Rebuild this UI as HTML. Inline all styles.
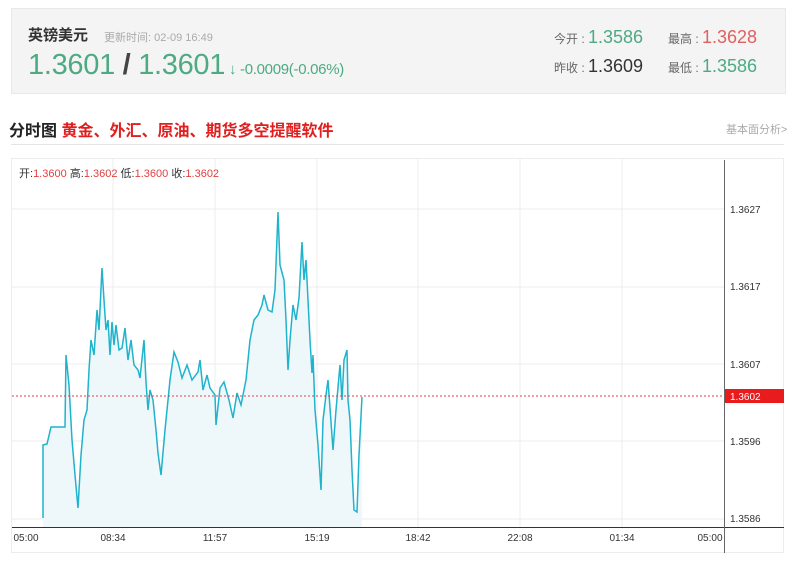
<!DOCTYPE html>
<html><head><meta charset="utf-8"><style>
body{margin:0;width:800px;height:571px;background:#fff;font-family:"Liberation Sans","Noto Sans CJK SC",sans-serif;position:relative;overflow:hidden}
.a{position:absolute;white-space:nowrap}
</style></head><body>
<div class="a" style="left:11px;top:8px;width:773px;height:84px;background:#f4f4f4;border:1px solid #e8e8e8"></div>
<div class="a" style="left:28px;top:24px;font-size:15px;font-weight:bold;color:#333">英镑美元</div>
<div class="a" style="left:104px;top:29px;font-size:11px;color:#aaa">更新时间: 02-09 16:49</div>
<div class="a" style="left:28px;top:49px;font-size:29px;color:#4daa83;letter-spacing:-0.3px">1.3601<span style="color:#444;font-weight:bold"> / </span>1.3601<span style="font-size:15px"> ↓ -0.0009(-0.06%)</span></div>
<div class="a" style="left:554px;top:27px;font-size:12px;color:#666">今开 : <span style="font-size:18px;color:#4daa83">1.3586</span></div>
<div class="a" style="left:668px;top:27px;font-size:12px;color:#666">最高 : <span style="font-size:18px;color:#e06060">1.3628</span></div>
<div class="a" style="left:554px;top:56px;font-size:12px;color:#666">昨收 : <span style="font-size:18px;color:#333">1.3609</span></div>
<div class="a" style="left:668px;top:56px;font-size:12px;color:#666">最低 : <span style="font-size:18px;color:#4daa83">1.3586</span></div>
<div class="a" style="left:9px;top:117px;font-size:16px;font-weight:bold;color:#222">分时图 <span style="color:#e02020">黄金、外汇、原油、期货多空提醒软件</span></div>
<div class="a" style="left:726px;top:121px;font-size:11px;color:#aaa">基本面分析&gt;</div>
<div class="a" style="left:11px;top:144px;width:773px;height:1px;background:#e5e5e5"></div>
<svg class="a" style="left:0;top:0" width="800" height="571">
<rect x="11.5" y="158.5" width="772" height="394" fill="none" stroke="#ececec"/>
<g stroke="#ececec">
<line x1="113" y1="159" x2="113" y2="527"/><line x1="215" y1="159" x2="215" y2="527"/><line x1="317" y1="159" x2="317" y2="527"/><line x1="418" y1="159" x2="418" y2="527"/><line x1="520" y1="159" x2="520" y2="527"/><line x1="622" y1="159" x2="622" y2="527"/>
<line x1="12" y1="209" x2="724" y2="209"/><line x1="12" y1="287" x2="724" y2="287"/><line x1="12" y1="364" x2="724" y2="364"/><line x1="12" y1="441" x2="724" y2="441"/><line x1="12" y1="519" x2="724" y2="519"/>
</g>
<polygon fill="#eef8fb" points="43,527 43,518 43,445 47,444 51,427 65,427 66,355 69,385 72,440 75,475 78,508 81,455 84,420 87,410 89,370 91,340 94,355 97,310 99,330 102,268 104,300 106,330 108,320 110,355 112,322 114,345 116,325 119,350 122,348 125,328 128,360 131,340 134,365 138,370 140,378 144,340 146,382 148,410 150,390 153,400 156,430 158,453 161,475 165,430 170,380 174,352 178,362 182,378 187,365 192,380 198,372 200,360 203,390 207,375 210,388 215,395 216,425 220,388 224,382 229,400 233,418 237,393 241,405 246,380 250,340 254,320 258,315 262,305 264,295 268,310 272,312 275,290 278,212 280,265 284,280 286,320 288,370 290,340 293,305 296,320 299,298 302,242 304,280 306,260 308,300 310,340 312,373 313,355 315,410 318,445 321,490 323,420 326,395 328,380 330,408 333,450 336,410 340,365 342,400 344,360 347,350 348,400 350,420 352,470 354,510 357,512 359,455 362,397 362,527"/>
<polyline fill="none" stroke="#1fb3cc" stroke-width="1.5" points="43,518 43,445 47,444 51,427 65,427 66,355 69,385 72,440 75,475 78,508 81,455 84,420 87,410 89,370 91,340 94,355 97,310 99,330 102,268 104,300 106,330 108,320 110,355 112,322 114,345 116,325 119,350 122,348 125,328 128,360 131,340 134,365 138,370 140,378 144,340 146,382 148,410 150,390 153,400 156,430 158,453 161,475 165,430 170,380 174,352 178,362 182,378 187,365 192,380 198,372 200,360 203,390 207,375 210,388 215,395 216,425 220,388 224,382 229,400 233,418 237,393 241,405 246,380 250,340 254,320 258,315 262,305 264,295 268,310 272,312 275,290 278,212 280,265 284,280 286,320 288,370 290,340 293,305 296,320 299,298 302,242 304,280 306,260 308,300 310,340 312,373 313,355 315,410 318,445 321,490 323,420 326,395 328,380 330,408 333,450 336,410 340,365 342,400 344,360 347,350 348,400 350,420 352,470 354,510 357,512 359,455 362,397"/>
<line x1="12" y1="396" x2="724" y2="396" stroke="#e04040" stroke-dasharray="2,2"/>
<line x1="12" y1="527.5" x2="784" y2="527.5" stroke="#333"/>
<line x1="724.5" y1="160" x2="724.5" y2="553" stroke="#666"/>
<rect x="725" y="389" width="59" height="14" fill="#e81c1c"/>
<g font-size="10" fill="#333" font-family="Liberation Sans,sans-serif">
<text x="730" y="213">1.3627</text><text x="730" y="290">1.3617</text><text x="730" y="368">1.3607</text><text x="730" y="445">1.3596</text><text x="730" y="522">1.3586</text>
<text x="730" y="400" fill="#fff">1.3602</text>
<g text-anchor="middle"><text x="26" y="541">05:00</text><text x="113" y="541">08:34</text><text x="215" y="541">11:57</text><text x="317" y="541">15:19</text><text x="418" y="541">18:42</text><text x="520" y="541">22:08</text><text x="622" y="541">01:34</text><text x="710" y="541">05:00</text></g>
</g>
<g font-size="11" font-family="Liberation Sans,Noto Sans CJK SC,sans-serif" fill="#333">
<text x="19" y="177">开:<tspan fill="#e04040">1.3600</tspan>   高:<tspan fill="#e04040">1.3602</tspan>   低:<tspan fill="#e04040">1.3600</tspan>   收:<tspan fill="#e04040">1.3602</tspan></text>
</g>
</svg>
</body></html>
